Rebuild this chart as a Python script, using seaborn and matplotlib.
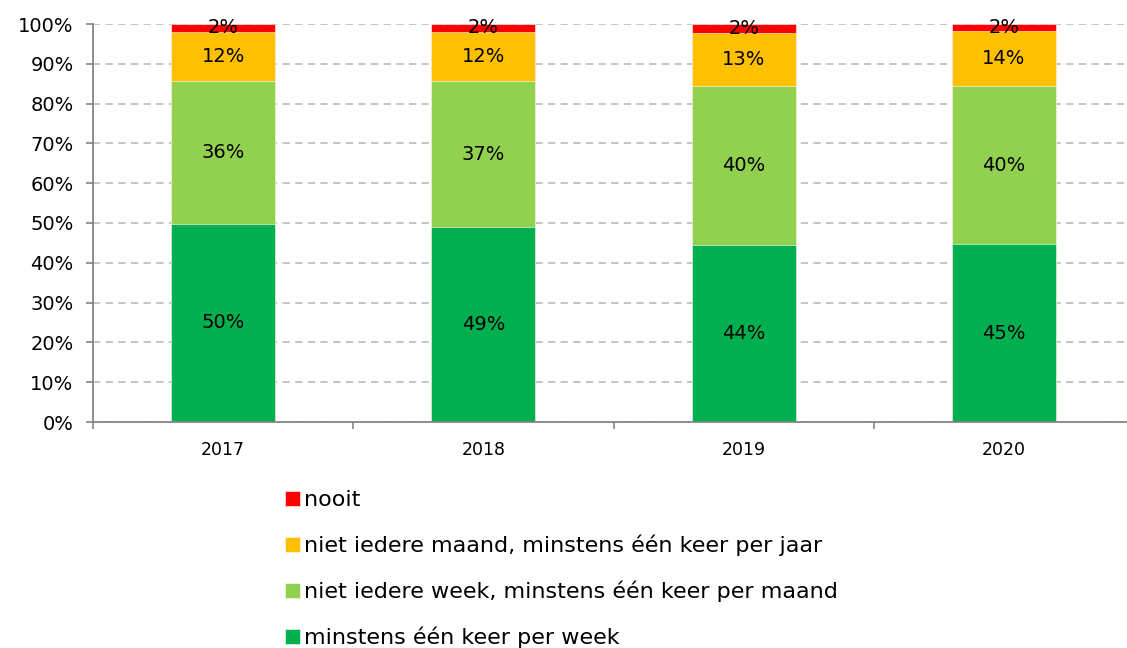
import numpy as np
import pandas as pd
import matplotlib
matplotlib.use("Agg")
import matplotlib.pyplot as plt
import seaborn as sns

years = ["2017", "2018", "2019", "2020"]
week = [49.8, 48.9, 44.4, 44.6]
month = [35.9, 36.8, 40.0, 39.8]
year_once = [12.4, 12.4, 13.3, 13.8]
never = [1.9, 1.9, 2.3, 1.8]

series_names = [
    "minstens één keer per week",
    "niet iedere week, minstens één keer per maand",
    "niet iedere maand, minstens één keer per jaar",
    "nooit",
]
series_values = [week, month, year_once, never]
series_colors = ["#00B050", "#92D050", "#FFC000", "#FF0000"]

sns.set_style("white")
plt.rcParams["font.family"] = ["DejaVu Sans"]
plt.rcParams["text.color"] = "black"
plt.rcParams["xtick.labelcolor"] = "black"
plt.rcParams["ytick.labelcolor"] = "black"

fig = plt.figure(figsize=(11.27, 6.48), dpi=100)
ax = fig.add_axes([93 / 1127, 1 - 422 / 648, (1134 - 93) / 1127, (422 - 24) / 648])

df = pd.DataFrame(dict(zip(series_names, series_values)), index=years)
cum = df.cumsum(axis=1)

# draw cumulative totals from the top down so each layer covers the one above
for name, color in reversed(list(zip(series_names, series_colors))):
    sns.barplot(x=years, y=cum[name].values, color=color, saturation=1,
                width=0.4, label=name, ax=ax, edgecolor="white", linewidth=0.4)

for name in series_names:
    bottoms = cum[name] - df[name]
    for i, yr in enumerate(years):
        v = df.loc[yr, name]
        ax.text(i, bottoms[yr] + v / 2, f"{int(round(v))}%", ha="center",
                va="center", fontsize=14, color="black")

ax.set_ylim(0, 100)
ax.set_xlim(-0.5, 3.5)
ax.set_yticks(np.arange(0, 101, 10))
ax.set_yticklabels([f"{t}%" for t in range(0, 101, 10)])
ax.tick_params(axis="y", length=5, width=1.2, color="#868686", pad=9,
               labelsize=14, left=True, labelcolor="black")
ax.set_xticks(range(len(years)))
ax.set_xticklabels(years)
ax.set_xticks(np.arange(-0.5, 4, 1), minor=True)
ax.tick_params(axis="x", which="major", length=0, pad=14, labelsize=12.5,
               labelcolor="black")
ax.tick_params(axis="x", which="minor", length=5, width=1.2,
               color="#868686", bottom=True)
ax.set_xlabel("")
ax.set_ylabel("")

ax.yaxis.grid(True, color="#BFBFBF", linestyle=(0, (4, 3)), linewidth=1.3)
ax.xaxis.grid(False)
ax.set_axisbelow(True)
for side in ["top", "right"]:
    ax.spines[side].set_visible(False)
for side in ["left", "bottom"]:
    ax.spines[side].set_color("#868686")
    ax.spines[side].set_linewidth(1.3)

handles, labels = ax.get_legend_handles_labels()
ax.get_legend().remove()
leg = fig.legend(handles, labels, loc="upper left",
                 bbox_to_anchor=(274 / 1127, 1 - 479 / 648), frameon=False,
                 fontsize=16, handlelength=0.65, handleheight=0.65,
                 handletextpad=0.2, labelspacing=1.1, borderpad=0)
for t in leg.get_texts():
    t.set_color("black")

fig.savefig("out.png", dpi=100)
